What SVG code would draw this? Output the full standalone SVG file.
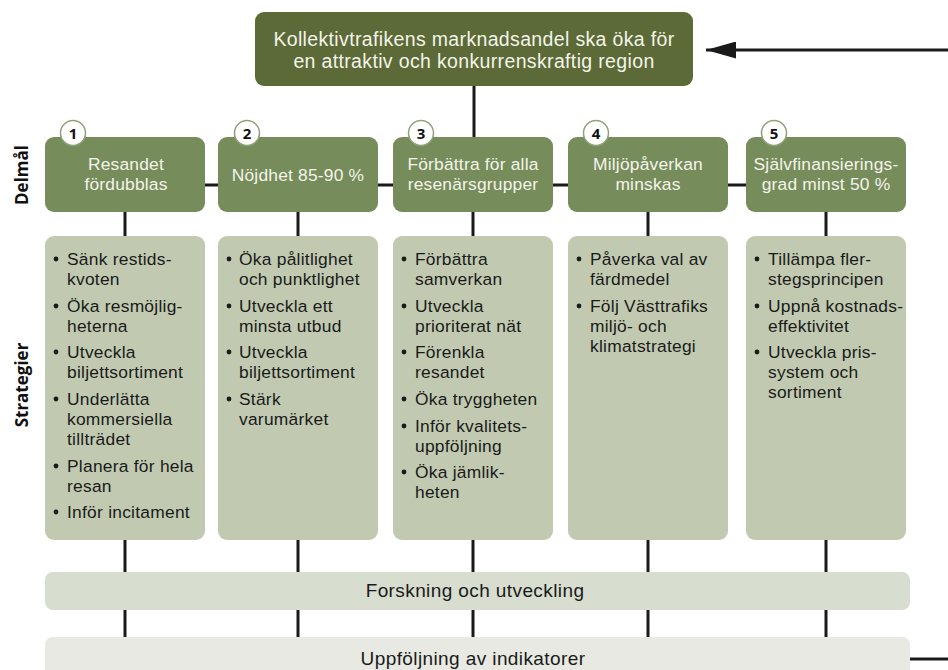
<svg xmlns="http://www.w3.org/2000/svg" width="948" height="670" viewBox="0 0 948 670">
<style>
.line{stroke:#1a1a1a;stroke-width:3;fill:none}
.top{fill:#5b6a37}
.goal{fill:#768c5b}
.strat{fill:#c1cab1}
.fou{fill:#d7ddcf}
.upp{fill:#e7e9e2}
.wt{font-family:"Liberation Sans",Arial,sans-serif;fill:#f4f4ea;text-anchor:middle}
.tt{font-size:19.5px;letter-spacing:0.35px}
.gt{font-size:17.4px;letter-spacing:0.2px}
.st{font-family:"Liberation Sans",Arial,sans-serif;font-size:17.4px;letter-spacing:0.25px;fill:#1a1a1a}
.bt{font-family:"Liberation Sans",Arial,sans-serif;font-size:19px;letter-spacing:0.4px;fill:#1a1a1a;text-anchor:middle}
.badge{fill:#ffffff;stroke:#8fa27a;stroke-width:1.5}
.num{font-family:"Open Sans","Noto Sans",sans-serif;font-weight:bold;font-size:15px;fill:#111;text-anchor:middle}
.side{font-family:"Open Sans","Noto Sans",sans-serif;font-weight:bold;font-size:17px;fill:#111;text-anchor:middle}
.dot{fill:#1a1a1a}
</style>
<defs>
<marker id="ah" markerWidth="30" markerHeight="17" refX="30" refY="8.5" orient="auto" markerUnits="userSpaceOnUse" viewBox="0 0 30 17">
<path d="M0,0 L30,8.5 L0,17 Z" fill="#1a1a1a"/>
</marker>
</defs>

<g id="connectors">
<line class="line" x1="474" y1="86" x2="474" y2="137"/>
<line class="line" x1="125" y1="185" x2="826" y2="185"/>
<line class="line" x1="125" y1="212" x2="125" y2="236"/>
<line class="line" x1="298" y1="212" x2="298" y2="236"/>
<line class="line" x1="473" y1="212" x2="473" y2="236"/>
<line class="line" x1="648" y1="212" x2="648" y2="236"/>
<line class="line" x1="826" y1="212" x2="826" y2="236"/>
<line class="line" x1="125" y1="540" x2="125" y2="572"/>
<line class="line" x1="298" y1="540" x2="298" y2="572"/>
<line class="line" x1="473" y1="540" x2="473" y2="572"/>
<line class="line" x1="648" y1="540" x2="648" y2="572"/>
<line class="line" x1="826" y1="540" x2="826" y2="572"/>
<line class="line" x1="125" y1="610" x2="125" y2="637"/>
<line class="line" x1="298" y1="610" x2="298" y2="637"/>
<line class="line" x1="473" y1="610" x2="473" y2="637"/>
<line class="line" x1="648" y1="610" x2="648" y2="637"/>
<line class="line" x1="826" y1="610" x2="826" y2="637"/>
<line class="line" x1="906" y1="659" x2="948" y2="659" stroke-width="3.5"/>
<line class="line" x1="948" y1="50" x2="706" y2="50" stroke-width="2.5" marker-end="url(#ah)"/>
</g>

<g id="top-goal">
<rect class="top" x="255" y="12" width="438" height="74" rx="9"/>
<text class="wt tt" x="474" y="46">Kollektivtrafikens marknadsandel ska öka för</text>
<text class="wt tt" x="474" y="68">en attraktiv och konkurrenskraftig region</text>
</g>

<g id="label-delmal">
<text class="side" transform="translate(28,175) rotate(-90)">Delmål</text>
</g>
<g id="label-strategier">
<text class="side" transform="translate(28,385) rotate(-90)">Strategier</text>
</g>

<g id="goal-1">
<rect class="goal" x="45" y="137" width="160" height="75" rx="9"/>
<circle class="badge" cx="73" cy="133" r="12.5"/>
<text class="num" x="73" y="138.5">1</text>
<text class="wt gt" x="126" y="170">Resandet</text>
<text class="wt gt" x="126" y="190">fördubblas</text>
</g>
<g id="goal-2">
<rect class="goal" x="218" y="137" width="160" height="75" rx="9"/>
<circle class="badge" cx="247" cy="133" r="12.5"/>
<text class="num" x="247" y="138.5">2</text>
<text class="wt gt" x="298" y="181">Nöjdhet 85-90 %</text>
</g>
<g id="goal-3">
<rect class="goal" x="393" y="137" width="160" height="75" rx="9"/>
<circle class="badge" cx="421" cy="133" r="12.5"/>
<text class="num" x="421" y="138.5">3</text>
<text class="wt gt" x="473" y="170">Förbättra för alla</text>
<text class="wt gt" x="473" y="190">resenärsgrupper</text>
</g>
<g id="goal-4">
<rect class="goal" x="568" y="137" width="160" height="75" rx="9"/>
<circle class="badge" cx="596" cy="133" r="12.5"/>
<text class="num" x="596" y="138.5">4</text>
<text class="wt gt" x="648" y="170">Miljöpåverkan</text>
<text class="wt gt" x="648" y="190">minskas</text>
</g>
<g id="goal-5">
<rect class="goal" x="746" y="137" width="160" height="75" rx="9"/>
<circle class="badge" cx="774" cy="133" r="12.5"/>
<text class="num" x="774" y="138.5">5</text>
<text class="wt gt" x="826" y="170">Självfinansierings-</text>
<text class="wt gt" x="826" y="190">grad minst 50 %</text>
</g>

<g id="strategy-1">
<rect class="strat" x="45" y="236" width="160" height="304" rx="9"/>
<circle class="dot" cx="56" cy="259" r="2.4"/>
<text class="st" x="67" y="265">Sänk restids-</text>
<text class="st" x="67" y="285">kvoten</text>
<circle class="dot" cx="56" cy="306" r="2.4"/>
<text class="st" x="67" y="312">Öka resmöjlig-</text>
<text class="st" x="67" y="332">heterna</text>
<circle class="dot" cx="56" cy="352" r="2.4"/>
<text class="st" x="67" y="358">Utveckla</text>
<text class="st" x="67" y="378">biljettsortiment</text>
<circle class="dot" cx="56" cy="399" r="2.4"/>
<text class="st" x="67" y="405">Underlätta</text>
<text class="st" x="67" y="425">kommersiella</text>
<text class="st" x="67" y="445">tillträdet</text>
<circle class="dot" cx="56" cy="466" r="2.4"/>
<text class="st" x="67" y="472">Planera för hela</text>
<text class="st" x="67" y="492">resan</text>
<circle class="dot" cx="56" cy="512" r="2.4"/>
<text class="st" x="67" y="518">Inför incitament</text>
</g>

<g id="strategy-2">
<rect class="strat" x="218" y="236" width="160" height="304" rx="9"/>
<circle class="dot" cx="229" cy="259" r="2.4"/>
<text class="st" x="239" y="265">Öka pålitlighet</text>
<text class="st" x="239" y="285">och punktlighet</text>
<circle class="dot" cx="229" cy="306" r="2.4"/>
<text class="st" x="239" y="312">Utveckla ett</text>
<text class="st" x="239" y="332">minsta utbud</text>
<circle class="dot" cx="229" cy="352" r="2.4"/>
<text class="st" x="239" y="358">Utveckla</text>
<text class="st" x="239" y="378">biljettsortiment</text>
<circle class="dot" cx="229" cy="399" r="2.4"/>
<text class="st" x="239" y="405">Stärk</text>
<text class="st" x="239" y="425">varumärket</text>
</g>

<g id="strategy-3">
<rect class="strat" x="393" y="236" width="160" height="304" rx="9"/>
<circle class="dot" cx="404" cy="259" r="2.4"/>
<text class="st" x="415" y="265">Förbättra</text>
<text class="st" x="415" y="285">samverkan</text>
<circle class="dot" cx="404" cy="306" r="2.4"/>
<text class="st" x="415" y="312">Utveckla</text>
<text class="st" x="415" y="332">prioriterat nät</text>
<circle class="dot" cx="404" cy="352" r="2.4"/>
<text class="st" x="415" y="358">Förenkla</text>
<text class="st" x="415" y="378">resandet</text>
<circle class="dot" cx="404" cy="399" r="2.4"/>
<text class="st" x="415" y="405">Öka tryggheten</text>
<circle class="dot" cx="404" cy="426" r="2.4"/>
<text class="st" x="415" y="432">Inför kvalitets-</text>
<text class="st" x="415" y="452">uppföljning</text>
<circle class="dot" cx="404" cy="472" r="2.4"/>
<text class="st" x="415" y="478">Öka jämlik-</text>
<text class="st" x="415" y="498">heten</text>
</g>

<g id="strategy-4">
<rect class="strat" x="568" y="236" width="160" height="304" rx="9"/>
<circle class="dot" cx="579" cy="259" r="2.4"/>
<text class="st" x="590" y="265">Påverka val av</text>
<text class="st" x="590" y="285">färdmedel</text>
<circle class="dot" cx="579" cy="306" r="2.4"/>
<text class="st" x="590" y="312">Följ Västtrafiks</text>
<text class="st" x="590" y="332">miljö- och</text>
<text class="st" x="590" y="352">klimatstrategi</text>
</g>

<g id="strategy-5">
<rect class="strat" x="746" y="236" width="160" height="304" rx="9"/>
<circle class="dot" cx="757" cy="259" r="2.4"/>
<text class="st" x="768" y="265">Tillämpa fler-</text>
<text class="st" x="768" y="285">stegsprincipen</text>
<circle class="dot" cx="757" cy="306" r="2.4"/>
<text class="st" x="768" y="312">Uppnå kostnads-</text>
<text class="st" x="768" y="332">effektivitet</text>
<circle class="dot" cx="757" cy="352" r="2.4"/>
<text class="st" x="768" y="358">Utveckla pris-</text>
<text class="st" x="768" y="378">system och</text>
<text class="st" x="768" y="398">sortiment</text>
</g>

<g id="forskning">
<rect class="fou" x="45" y="572" width="865" height="38" rx="8"/>
<text class="bt" x="475" y="597">Forskning och utveckling</text>
</g>

<g id="uppfoljning">
<rect class="upp" x="45" y="637" width="865" height="45" rx="8"/>
<text class="bt" x="473" y="665">Uppföljning av indikatorer</text>
</g>
</svg>
